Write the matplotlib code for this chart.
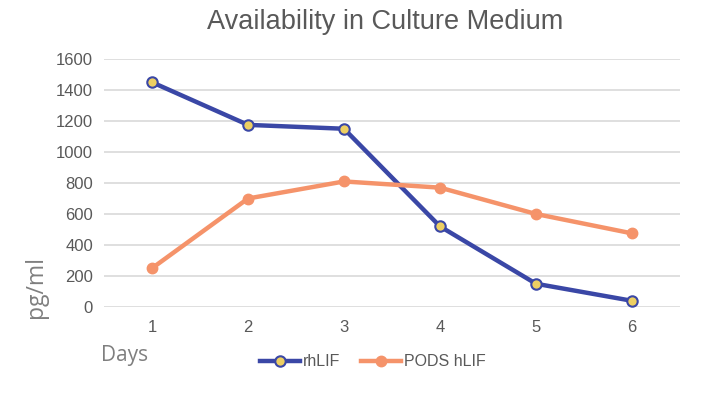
import matplotlib
matplotlib.use("Agg")
import matplotlib.pyplot as plt
from matplotlib.lines import Line2D

days = [1, 2, 3, 4, 5, 6]
day_labels = ["1", "2", "3", "4", "5", "6"]
rhlif = [1450, 1175, 1150, 520, 150, 40]
pods_hlif = [250, 700, 810, 770, 600, 475]
yticks = [0, 200, 400, 600, 800, 1000, 1200, 1400, 1600]

blue = "#3A47A6"
orange = "#F5936A"
yellow = "#EDCF62"
txt = "#595959"

plt.rcParams['font.family'] = ['Liberation Sans', 'DejaVu Sans']

fig = plt.figure(figsize=(7.23, 3.93), dpi=100)
ax = fig.add_axes([104/723, 1-307/393, (680-104)/723, (307-59)/393])

ax.plot(days, rhlif, color=blue, lw=3.2, marker='o', ms=7.5, mfc=yellow, mec=blue, mew=1.5, zorder=3, label='rhLIF')
ax.plot(days, pods_hlif, color=orange, lw=3.2, marker='o', ms=7.5, mfc=orange, mec=orange, zorder=3, label='PODS hLIF')

ax.set_xlim(0.5, 6.5)
ax.set_ylim(0, 1600)
ax.set_yticks(yticks)
ax.set_yticklabels([str(v) for v in yticks])
ax.set_xticks(days)
ax.set_xticklabels(day_labels)
ax.grid(axis='y', color='#D9D9D9', lw=1.2)
ax.set_axisbelow(True)
for s in ax.spines.values():
    s.set_visible(False)
ax.tick_params(length=0, labelsize=12, colors=txt, pad=8)
ax.tick_params(axis='x', pad=9)

fig.text(385/723, 1-22/393, "Availability in Culture Medium", ha='center', va='center',
         fontsize=19.5, color=txt)
fig.text(36/723, 1-287/393, "pg/ml", ha='center', va='center', rotation=90,
         fontsize=16.5, color='#7F7F7F', family=['Open Sans', 'DejaVu Sans'])
fig.text(125/723, 1-355/393, "Days", ha='center', va='center',
         fontsize=15, color='#7F7F7F', family=['Open Sans', 'DejaVu Sans'])

handles = [Line2D([], [], color=blue, lw=3.2, marker='o', ms=7.5, mfc=yellow, mec=blue, mew=1.5),
           Line2D([], [], color=orange, lw=3.2, marker='o', ms=7.5, mfc=orange, mec=orange)]
fig.legend(handles, ['rhLIF', 'PODS hLIF'], loc='center', bbox_to_anchor=(373/723, 1-362/393),
           ncol=2, frameon=False, fontsize=11.5, handlelength=2.5, handletextpad=0.2,
           columnspacing=1.3, labelcolor=txt)

fig.savefig("out.png", dpi=100)
